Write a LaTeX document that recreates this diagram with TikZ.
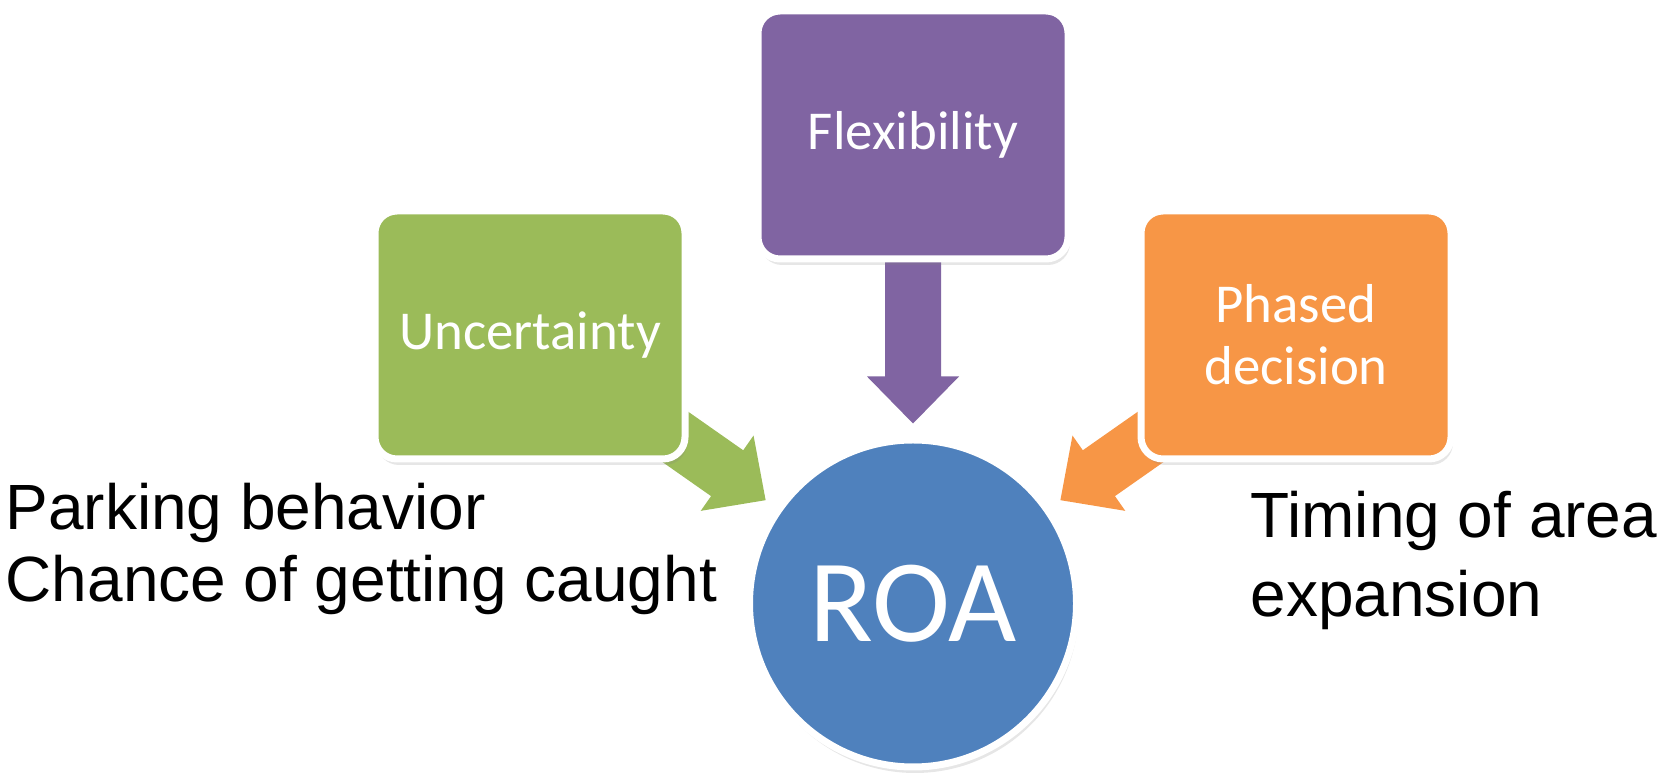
\documentclass[tikz,border=0pt]{standalone}
\usepackage{fontspec}
\setmainfont{Liberation Sans}
\newfontfamily\calibri{Carlito}
\usetikzlibrary{positioning, calc, shadows, backgrounds}

\definecolor{roablue}{HTML}{4F81BD}
\definecolor{uncgreen}{HTML}{9BBB59}
\definecolor{flexpurple}{HTML}{8064A2}
\definecolor{phaseorange}{HTML}{F79646}

% block arrow from box #2 to circle #3, filled with colour #1
\newcommand{\fatarrow}[3]{%
  \coordinate (atip) at ($(#3)!1.8cm!(#2)$);
  \coordinate (aneck) at ($(atip)!0.47cm!(#2)$);
  \fill[#1] ($(#2)!0.28cm!90:(atip)$) -- ($(aneck)!0.28cm!90:(atip)$) -- ($(aneck)!0.46cm!90:(atip)$) -- (atip)
    -- ($(aneck)!0.46cm!-90:(atip)$) -- ($(aneck)!0.28cm!-90:(atip)$) -- ($(#2)!0.28cm!-90:(atip)$) -- cycle;}

\begin{document}
\begin{tikzpicture}
  \useasboundingbox (0,0) rectangle (16.66,7.74);

  % ROA circle
  \node[circle, fill=roablue, draw=white, line width=0.07cm, minimum size=3.27cm, text=white, font=\calibri\fontsize{33.5}{40}\selectfont, drop shadow={opacity=0.2, shadow xshift=0.02cm, shadow yshift=-0.06cm}] (roa) at (9.13,1.705) {ROA};

  % Boxes
  \node[rectangle, rounded corners=0.22cm, fill=flexpurple, draw=white, line width=0.07cm, minimum width=3.10cm, minimum height=2.48cm, text=white, font=\calibri\fontsize{15.6}{17.6}\selectfont, drop shadow={opacity=0.2, shadow xshift=0.02cm, shadow yshift=-0.06cm}, above=1.74cm of roa] (flex) {Flexibility};
  \node[rectangle, rounded corners=0.22cm, fill=uncgreen, draw=white, line width=0.07cm, minimum width=3.10cm, minimum height=2.48cm, text=white, font=\calibri\fontsize{15.6}{17.6}\selectfont, drop shadow={opacity=0.2, shadow xshift=0.02cm, shadow yshift=-0.06cm}, left=0.66cm of flex, yshift=-2cm] (unc) {Uncertainty};
  \node[rectangle, rounded corners=0.22cm, fill=phaseorange, draw=white, line width=0.07cm, minimum width=3.10cm, minimum height=2.48cm, text=white, align=center, font=\calibri\fontsize{15.6}{17.6}\selectfont, drop shadow={opacity=0.2, shadow xshift=0.02cm, shadow yshift=-0.06cm}, right=0.66cm of flex, yshift=-2cm] (phase) {Phased\\decision};

  % Arrows into ROA
  \begin{scope}[on background layer]
    \fatarrow{flexpurple}{flex}{roa}
    \fatarrow{uncgreen}{unc}{roa}
    \fatarrow{phaseorange}{phase}{roa}
  \end{scope}

  % Texts beside the circle
  \node[anchor=base west, align=left, inner sep=0pt, font=\fontsize{18.2}{20.5}\selectfont] (unctext) at (0.05,1.72) {Parking behavior\\Chance of getting caught};
  \node[anchor=base west, align=left, inner sep=0pt, font=\fontsize{18.2}{22.7}\selectfont] (phasetext) at (12.50,1.57) {Timing of area\\expansion};
\end{tikzpicture}
\end{document}
